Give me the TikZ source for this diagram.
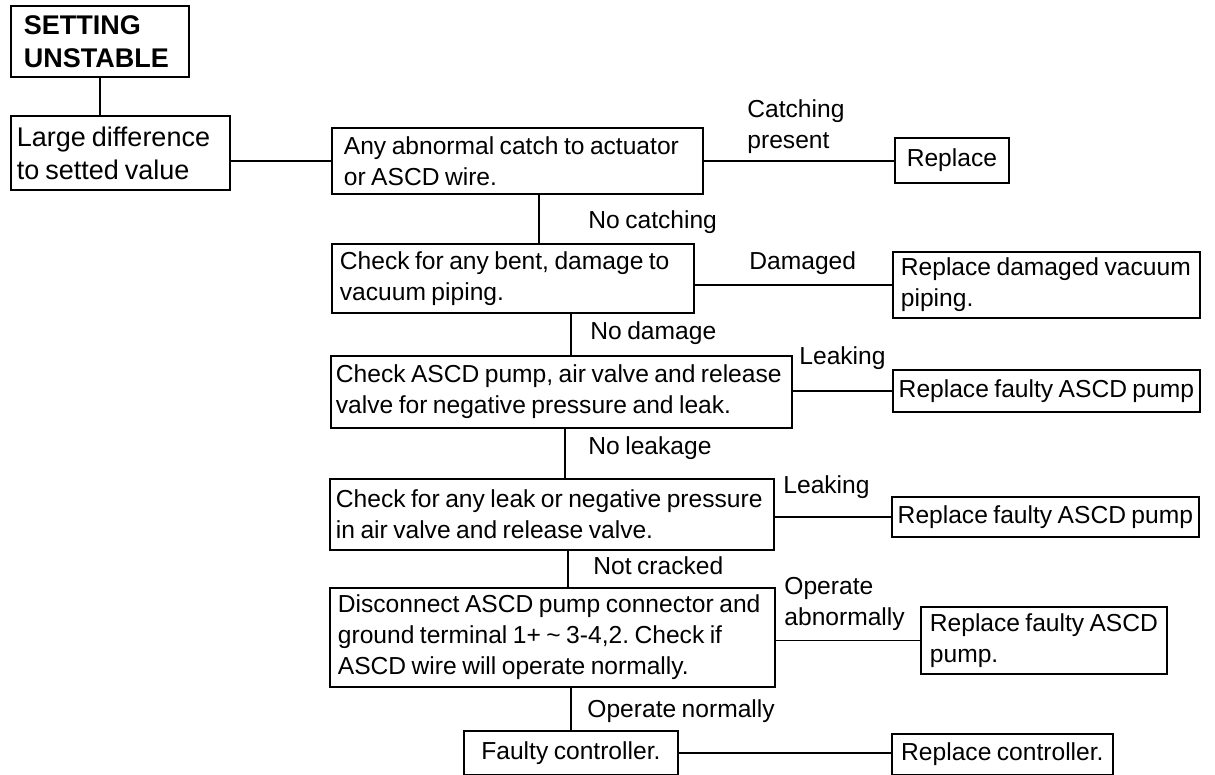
\documentclass[tikz,border=0pt]{standalone}
\usepackage{fontspec}
\setmainfont{Liberation Sans}[WordSpace=0.8]
\frenchspacing

\begin{document}
\begin{tikzpicture}[x=0.5pt, y=-0.5pt, font=\fontsize{12.3}{15.5}\selectfont]
\tikzstyle{box}=[rectangle, draw=black, line width=0.9pt, anchor=north west, align=flush left, inner ysep=0pt]
\tikzstyle{one}=[rectangle, draw=black, line width=0.9pt, anchor=north west, align=center, inner sep=0pt]
\tikzstyle{line}=[line width=0.9pt]
\tikzstyle{lbl}=[anchor=west, align=left, inner sep=0pt]
\useasboundingbox (0,0) rectangle (1215,775);
\node (set) [box, font=\fontsize{13.5}{16.5}\selectfont\bfseries, inner xsep=6.5pt, text width=76pt, minimum height=35.5pt] at (10,5) {SETTING\\UNSTABLE};
\node (large) [box, font=\fontsize{13.5}{16.5}\selectfont, inner xsep=3pt, text width=103.5pt, minimum height=37pt] at (10,115) {Large difference\\to setted value};
\node (abn) [box, inner xsep=6pt, text width=173.5pt, minimum height=33pt] at (331,127) {Any abnormal catch to actuator\\or ASCD wire.};
\node (rep1) [one, minimum width=57pt, minimum height=22.5pt] at (894,137) {Replace};
\node (bent) [box, inner xsep=4pt, text width=173pt, minimum height=34.5pt] at (331,243) {Check for any bent, damage to\\vacuum piping.};
\node (rvac) [box, inner xsep=4pt, text width=145.5pt, minimum height=33pt] at (892,251) {Replace damaged vacuum\\piping.};
\node (ascd) [box, inner xsep=2.5pt, text width=225.5pt, minimum height=36pt] at (330,355) {Check ASCD pump, air valve and release\\valve for negative pressure and leak.};
\node (rpump1) [one, minimum width=153.5pt, minimum height=21pt] at (892,369) {Replace faulty ASCD pump};
\node (leak) [box, inner xsep=3pt, text width=216pt, minimum height=35.5pt] at (329,478) {Check for any leak or negative pressure\\in air valve and release valve.};
\node (rpump2) [one, minimum width=153.5pt, minimum height=20pt] at (891,496) {Replace faulty ASCD pump};
\node (disc) [box, inner xsep=4pt, text width=214.5pt, minimum height=49.5pt] at (329,587) {Disconnect ASCD pump connector and\\ground terminal 1+ \textasciitilde\ 3-4,2. Check if\\ASCD wire will operate normally.};
\node (rpump3) [box, inner xsep=4.5pt, text width=114pt, minimum height=33.5pt] at (920,606) {Replace faulty ASCD\\pump.};
\node (fctl) [one, minimum width=107pt, minimum height=22pt] at (463,730) {Faulty controller.};
\node (rctl) [one, minimum width=110.5pt, minimum height=20.5pt] at (891,733) {Replace controller.};
\node (lcatch) [lbl] at (747,127) {Catching\\present};
\node (lnocatch) [lbl] at (588,222) {No catching};
\node (ldamaged) [lbl] at (749,263) {Damaged};
\node (lnodamage) [lbl] at (590,333) {No damage};
\node (lleak1) [lbl] at (799,358) {Leaking};
\node (lnoleak) [lbl] at (588,448) {No leakage};
\node (lleak2) [lbl] at (783,487) {Leaking};
\node (lnotcr) [lbl] at (593,566) {Not cracked};
\node (labn) [lbl] at (784,604) {Operate\\abnormally};
\node (lnorm) [lbl] at (587,711) {Operate normally};
\draw[line] (set.south) -- (set.south |- large.north);
\draw[line] (abn.west) -- (abn.west -| large.east);
\draw[line] (abn.east) -- (abn.east -| rep1.west);
\draw[line] ([xshift=10.75pt]abn.south) -- ([xshift=10.75pt]abn.south |- bent.north);
\draw[line] ([xshift=29pt]bent.south) -- ([xshift=29pt]bent.south |- ascd.north);
\draw[line] ([xshift=1.75pt]ascd.south) -- ([xshift=1.75pt]ascd.south |- leak.north);
\draw[line] ([xshift=8pt]leak.south) -- ([xshift=8pt]leak.south |- disc.north);
\draw[line] (fctl.north) -- (fctl.north |- disc.south);
\draw[line] (rvac.west) -- (rvac.west -| bent.east);
\draw[line] (rpump1.west) -- (rpump1.west -| ascd.east);
\draw[line] (rpump2.west) -- (rpump2.west -| leak.east);
\draw[line] (rpump3.west) -- (rpump3.west -| disc.east);
\draw[line] (fctl.east) -- (fctl.east -| rctl.west);
\end{tikzpicture}
\end{document}
